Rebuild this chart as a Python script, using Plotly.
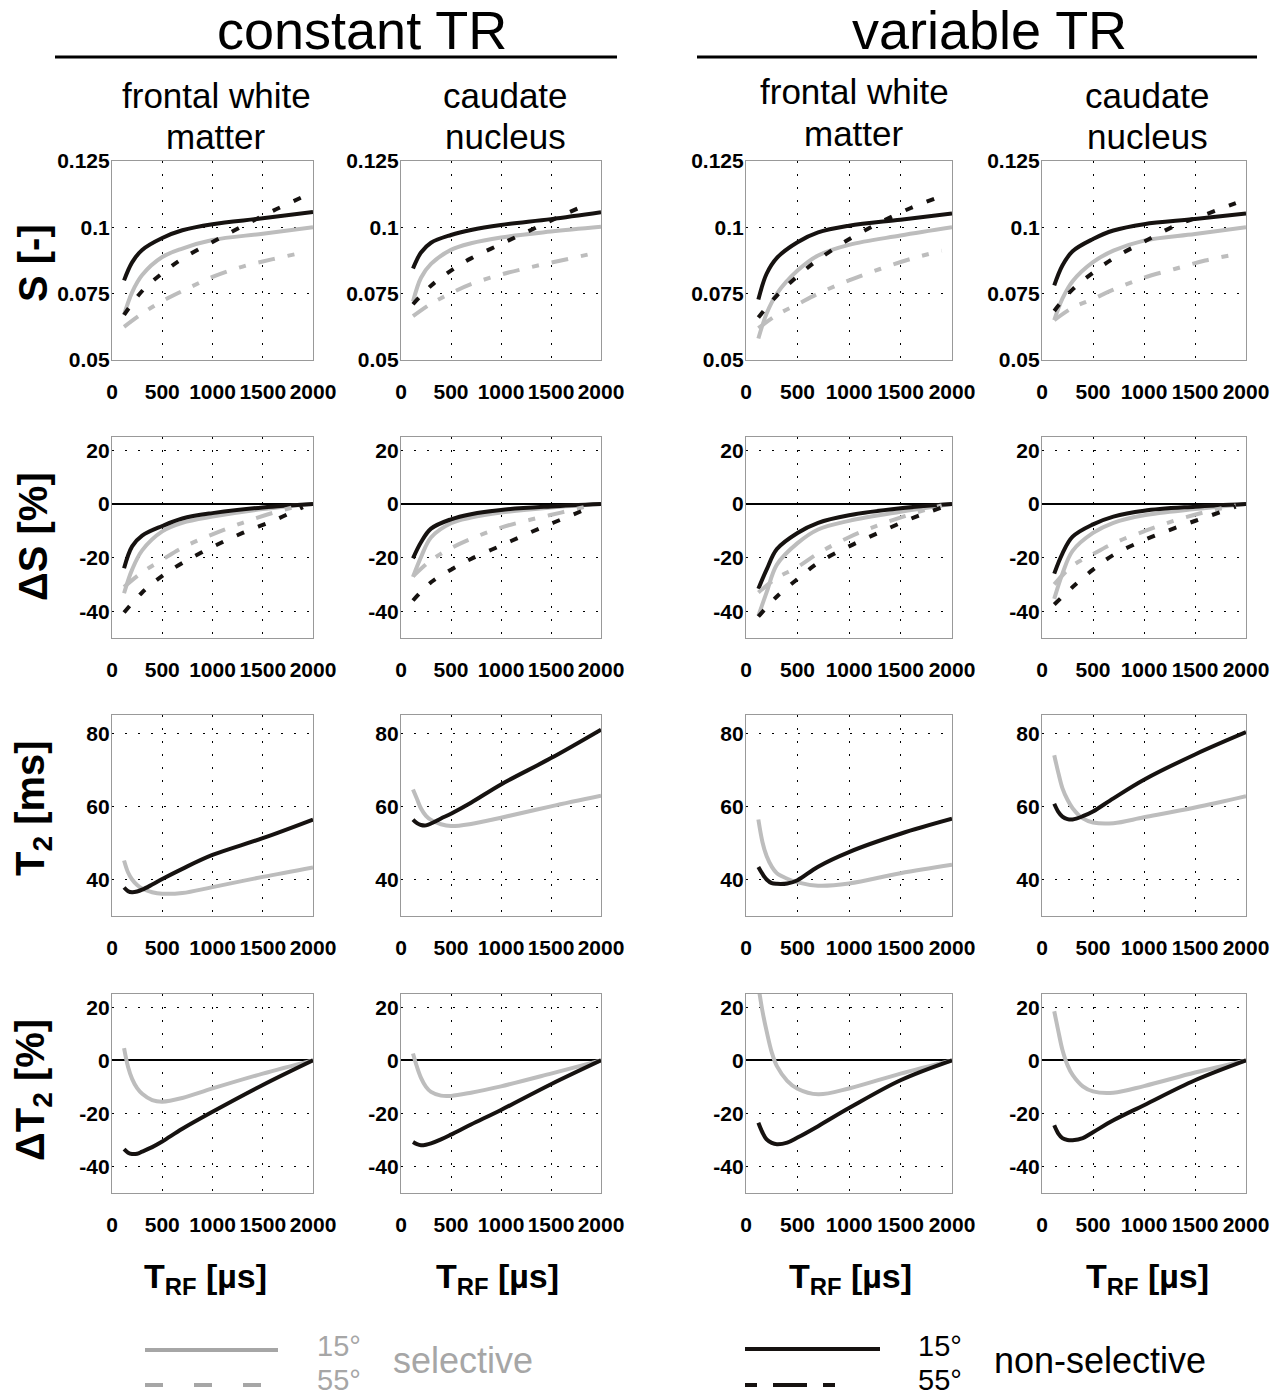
import plotly.graph_objects as go

W, H = 1277, 1397

# ---------------- data ----------------
# TRF sample positions [µs]
X15 = [120, 200, 300, 500, 700, 1000, 1500, 2000]
X55 = [120, 300, 500, 700, 1000, 1300, 1600, 1900]
XT = [120, 160, 200, 250, 300, 400, 500, 700, 1000, 1500, 2000]

# Row 1: S [-]   (sel = selective / gray, non = non-selective / black)
S_cfwm_non15 = [0.080, 0.0868, 0.0915, 0.0960, 0.0989, 0.1012, 0.1034, 0.1058]
S_cfwm_sel15 = [0.067, 0.0755, 0.0820, 0.0888, 0.0920, 0.0952, 0.0976, 0.1000]
S_cfwm_non55 = [0.067, 0.0760, 0.0827, 0.0882, 0.0945, 0.1005, 0.1062, 0.1115]
S_cfwm_sel55 = [0.0625, 0.0675, 0.0722, 0.0760, 0.0813, 0.0852, 0.0880, 0.0905]

S_ccn_non15 = [0.0845, 0.0905, 0.0942, 0.0971, 0.0990, 0.1009, 0.1031, 0.1057]
S_ccn_sel15 = [0.072, 0.0810, 0.0862, 0.0915, 0.0940, 0.0962, 0.0984, 0.1002]
S_ccn_non55 = [0.071, 0.0780, 0.0837, 0.0883, 0.0937, 0.0990, 0.1043, 0.1093]
S_ccn_sel55 = [0.0665, 0.0712, 0.0752, 0.0786, 0.0822, 0.0850, 0.0875, 0.0900]

S_vfwm_non15 = [0.0728, 0.0825, 0.0885, 0.0944, 0.0981, 0.1006, 0.1029, 0.1052]
S_vfwm_sel15 = [0.0581, 0.0675, 0.0750, 0.0837, 0.0894, 0.0934, 0.0969, 0.1000]
S_vfwm_non55 = [0.066, 0.0743, 0.0816, 0.0878, 0.0955, 0.1018, 0.1073, 0.1118]
S_vfwm_sel55 = [0.062, 0.0670, 0.0710, 0.0750, 0.0800, 0.0843, 0.0881, 0.0912]

S_vcn_non15 = [0.0781, 0.0856, 0.0910, 0.0956, 0.0988, 0.1012, 0.1031, 0.1052]
S_vcn_sel15 = [0.065, 0.0731, 0.0797, 0.0869, 0.0912, 0.0950, 0.0975, 0.1000]
S_vcn_non55 = [0.0685, 0.0766, 0.0829, 0.0883, 0.0946, 0.1005, 0.1048, 0.1091]
S_vcn_sel55 = [0.065, 0.0697, 0.0730, 0.0765, 0.0810, 0.0843, 0.0875, 0.0898]

# Row 2: ΔS [%]
dS_cfwm_non15 = [-24, -15.8, -11.8, -8.2, -5.4, -3.4, -1.3, 0]
dS_cfwm_sel15 = [-33.3, -24.5, -17.3, -10.2, -7.0, -4.7, -1.9, 0]
dS_cfwm_non55 = [-40.5, -33, -26.8, -22, -16, -10.8, -6.3, -1.2]
dS_cfwm_sel55 = [-31, -25.5, -20.8, -16.3, -11.3, -7.0, -3.3, -0.3]

dS_ccn_non15 = [-20.3, -14.3, -9.2, -5.7, -3.8, -2.2, -0.9, 0]
dS_ccn_sel15 = [-27.2, -19.8, -12.5, -7.2, -5.1, -3.2, -1.3, 0]
dS_ccn_non55 = [-36, -29.2, -24.5, -20.5, -15.5, -10.5, -5.8, -1.2]
dS_ccn_sel55 = [-27, -21, -16.5, -13, -8.8, -5.8, -3.2, -0.5]

dS_vfwm_non15 = [-31.6, -24.5, -16.8, -10.8, -7.0, -4.2, -1.6, 0]
dS_vfwm_sel15 = [-41.8, -33, -22.6, -14.6, -9.5, -6.3, -2.9, 0]
dS_vfwm_non55 = [-42, -34.5, -28, -22, -15.8, -10.5, -5.5, -1.3]
dS_vfwm_sel55 = [-33, -27.6, -23.5, -18.4, -12.4, -7.7, -3.8, -0.5]

dS_vcn_non15 = [-26, -18.5, -12.2, -7.6, -4.7, -2.5, -1.0, 0]
dS_vcn_sel15 = [-35.4, -26, -17.5, -10.8, -7.0, -4.2, -1.9, 0]
dS_vcn_non55 = [-37.5, -31, -24.5, -19, -13.5, -9, -5, -1]
dS_vcn_sel55 = [-30, -23, -18.7, -14.7, -10.2, -6.2, -3.0, -0.5]

# Row 3: T2 [ms]  (15° only)
T2_cfwm_non15 = [37.8, 36.8, 36.5, 36.7, 37.2, 38.6, 40.1, 42.9, 46.7, 51.3, 56.4]
T2_cfwm_sel15 = [45.2, 41.9, 40.0, 38.5, 37.5, 36.5, 36.1, 36.3, 37.9, 40.7, 43.3]
T2_ccn_non15 = [56.4, 55.4, 54.9, 54.8, 55.3, 56.7, 58.0, 61.0, 66.0, 73.2, 81.0]
T2_ccn_sel15 = [64.6, 62.0, 59.4, 57.4, 56.3, 55.1, 54.6, 55.2, 56.9, 60.0, 62.9]
T2_vfwm_non15 = [43.4, 41.5, 40.0, 39.0, 38.8, 38.9, 39.8, 43.5, 47.5, 52.5, 56.6]
T2_vfwm_sel15 = [56.4, 50.2, 46.4, 43.5, 41.7, 40.2, 39.2, 38.3, 38.9, 41.7, 44.0]
T2_vcn_non15 = [60.7, 58.5, 57.2, 56.5, 56.4, 57.3, 58.6, 62.2, 67.3, 74.2, 80.3]
T2_vcn_sel15 = [74.0, 69.2, 65.0, 61.8, 59.5, 56.7, 55.6, 55.4, 57.0, 59.7, 62.8]

# Row 4: ΔT2 [%]
dT2_cfwm_non15 = [-33.5, -34.8, -35.3, -35.2, -34.4, -32.7, -30.6, -25.8, -19.4, -9.3, 0]
dT2_cfwm_sel15 = [4.6, -2.5, -7.0, -10.5, -12.6, -15.0, -15.6, -14.2, -10.6, -5.0, 0]
dT2_ccn_non15 = [-30.8, -31.6, -32.0, -31.8, -31.3, -29.8, -28.0, -24.2, -18.7, -9.0, 0]
dT2_ccn_sel15 = [2.6, -2.5, -6.6, -10.0, -11.9, -13.3, -13.4, -12.2, -9.8, -5.0, 0]
dT2_vfwm_non15 = [-23.5, -27.2, -29.8, -31.1, -31.6, -31.0, -29.1, -24.8, -18.0, -7.5, 0]
dT2_vfwm_sel15 = [28.0, 18.5, 11.0, 3.0, -2.2, -7.7, -10.7, -12.8, -10.6, -5.0, 0]
dT2_vcn_non15 = [-24.5, -27.6, -29.3, -30.0, -30.1, -29.3, -27.1, -22.6, -16.9, -7.5, 0]
dT2_vcn_sel15 = [18.5, 11.0, 4.0, -1.8, -5.5, -9.8, -11.7, -12.2, -9.7, -4.6, 0]

X_TICKS = [0, 500, 1000, 1500, 2000]
Y_TICKS_S = [0.05, 0.075, 0.1, 0.125]
Y_TICKTEXT_S = ["0.05", "0.075", "0.1", "0.125"]
Y_TICKS_D = [-40, -20, 0, 20]
Y_TICKS_T2 = [40, 60, 80]

HEADERS = ["constant TR", "variable TR"]
COL_TITLES = [["frontal white", "matter"], ["caudate", "nucleus"],
              ["frontal white", "matter"], ["caudate", "nucleus"]]
ROW_TITLES = ["S [-]", "ΔS [%]", "T<sub>2</sub> [ms]", "ΔT<sub>2</sub> [%]"]
X_TITLE = "T<sub>RF</sub> [µs]"
LEG_ANGLES = ["15°", "55°"]
LEG_NAMES = ["selective", "non-selective"]

# ---------------- layout helpers ----------------
COLS_PX = [(112, 313), (401, 601), (746, 952), (1042, 1246)]
ROWS_PX = [(161, 360), (437, 638), (715, 916), (994, 1193)]
YRANGES = [(0.05, 0.125), (-50, 25), (30, 85), (-50, 25)]

GRAY = "#bdbdbd"
BLACK = "#161210"
LW = 4
DASH_BLACK = "8px,15px"
DASH_GRAY = "17px,13px,7px,13px"

fig = go.Figure()

TICKFONT = dict(family="Liberation Sans", size=21, color="black", weight="bold")

panels = ["cfwm", "ccn", "vfwm", "vcn"]
g = globals()

layout_axes = {}
for r in range(4):
    for c in range(4):
        idx = r * 4 + c + 1
        xa = "x" if idx == 1 else f"x{idx}"
        ya = "y" if idx == 1 else f"y{idx}"
        p = panels[c]
        if r in (0, 1):
            pre = "S" if r == 0 else "dS"
            series = [
                (X15, g[f"{pre}_{p}_sel15"], GRAY, "solid"),
                (X15, g[f"{pre}_{p}_non15"], BLACK, "solid"),
                (X55, g[f"{pre}_{p}_sel55"], GRAY, DASH_GRAY),
                (X55, g[f"{pre}_{p}_non55"], BLACK, DASH_BLACK),
            ]
        else:
            pre = "T2" if r == 2 else "dT2"
            series = [
                (XT, g[f"{pre}_{p}_sel15"], GRAY, "solid"),
                (XT, g[f"{pre}_{p}_non15"], BLACK, "solid"),
            ]
        for xs, ys, col, dash in series:
            fig.add_trace(go.Scatter(
                x=xs, y=ys, mode="lines", xaxis=xa, yaxis=ya,
                line=dict(color=col, width=LW, dash=dash, shape="spline", smoothing=1.0),
                showlegend=False, hoverinfo="skip", cliponaxis=True))

        x0, x1 = COLS_PX[c]
        y0, y1 = ROWS_PX[r]
        xkey = "xaxis" if idx == 1 else f"xaxis{idx}"
        ykey = "yaxis" if idx == 1 else f"yaxis{idx}"
        layout_axes[xkey] = dict(
            domain=[x0 / W, x1 / W], anchor=ya, range=[0, 2000], automargin=False,
            tickvals=X_TICKS, ticktext=[str(v) for v in X_TICKS], tickangle=0,
            showgrid=True, gridcolor="black", griddash="2px,11px", gridwidth=1.3,
            showline=True, mirror=True, linecolor="#999999", linewidth=1.2,
            zeroline=False, ticks="", tickfont=TICKFONT, ticklabelstandoff=13,
        )
        if r == 0:
            yt, ytt = Y_TICKS_S, Y_TICKTEXT_S
        elif r == 2:
            yt, ytt = Y_TICKS_T2, [str(v) for v in Y_TICKS_T2]
        else:
            yt, ytt = Y_TICKS_D, [str(v) for v in Y_TICKS_D]
        layout_axes[ykey] = dict(
            domain=[1 - y1 / H, 1 - y0 / H], anchor=xa, range=list(YRANGES[r]), automargin=False,
            tickvals=yt, ticktext=ytt,
            showgrid=True, gridcolor="black", griddash="2px,11px", gridwidth=1.3,
            showline=True, mirror=True, linecolor="#999999", linewidth=1.2,
            zeroline=(r in (1, 3)), zerolinecolor="black", zerolinewidth=1.8,
            ticks="", tickfont=TICKFONT, ticklabelstandoff=-3,
        )

annotations = []
shapes = []

def px(x):
    return x / W

def py(y):
    return 1 - y / H

def ann(text, x, y, font, xanchor="center", textangle=0):
    annotations.append(dict(text=text, x=px(x), y=py(y), xref="paper", yref="paper",
                            showarrow=False, xanchor=xanchor, yanchor="middle",
                            textangle=textangle, font=font, borderpad=0))

# headers
for i, (cx, lx0, lx1) in enumerate([(362, 55, 617), (989, 697, 1257)]):
    ann(HEADERS[i], cx, 30, dict(family="Liberation Sans", size=54, color="black"))
    shapes.append(dict(type="line", xref="paper", yref="paper", x0=px(lx0), x1=px(lx1),
                       y0=py(57), y1=py(57), line=dict(color="black", width=3)))

# column titles (two lines each)
for c, (cx, cy1, cy2) in enumerate([(216, 95, 136), (505, 95, 137), (854, 92, 133), (1147, 95, 137)]):
    f = dict(family="Liberation Sans", size=35, color="black")
    ann(COL_TITLES[c][0], cx, cy1, f)
    ann(COL_TITLES[c][1], cx, cy2, f)

# row titles
for r, cy in enumerate([263, 537, 808, 1090]):
    ann(ROW_TITLES[r], 33, cy, dict(family="Liberation Sans", size=40, color="black", weight="bold"),
        textangle=-90)

# x titles
for c, cx in enumerate([205, 497, 850, 1147]):
    ann(X_TITLE, cx, 1278, dict(family="Liberation Sans", size=34, color="black", weight="bold"))

# legend
LEG_GRAY = "#a6a6a6"
shapes.append(dict(type="line", xref="paper", yref="paper", x0=px(145), x1=px(278), y0=py(1350), y1=py(1350),
                   line=dict(color=LEG_GRAY, width=4)))
shapes.append(dict(type="line", xref="paper", yref="paper", x0=px(145), x1=px(262), y0=py(1385), y1=py(1385),
                   line=dict(color=LEG_GRAY, width=4, dash="18px,31px")))
shapes.append(dict(type="line", xref="paper", yref="paper", x0=px(745), x1=px(880), y0=py(1349), y1=py(1349),
                   line=dict(color=BLACK, width=4)))
shapes.append(dict(type="line", xref="paper", yref="paper", x0=px(745), x1=px(880), y0=py(1385), y1=py(1385),
                   line=dict(color=BLACK, width=4, dash="12px,16px,34px,16px,12px,100px")))

LEGFONT_G = dict(family="Liberation Sans", size=29, color=LEG_GRAY)
LEGFONT_B = dict(family="Liberation Sans", size=29, color="black")
ann(LEG_ANGLES[0], 316, 1346, LEGFONT_G, xanchor="left")
ann(LEG_ANGLES[1], 316, 1380, LEGFONT_G, xanchor="left")
ann(LEG_NAMES[0], 392, 1360, dict(family="Liberation Sans", size=36, color=LEG_GRAY), xanchor="left")
ann(LEG_ANGLES[0], 917, 1346, LEGFONT_B, xanchor="left")
ann(LEG_ANGLES[1], 917, 1380, LEGFONT_B, xanchor="left")
ann(LEG_NAMES[1], 993, 1360, dict(family="Liberation Sans", size=36, color="black"), xanchor="left")

fig.update_layout(
    width=W, height=H, margin=dict(l=0, r=0, t=0, b=0),
    paper_bgcolor="white", plot_bgcolor="white",
    showlegend=False, annotations=annotations, shapes=shapes,
    **layout_axes,
)

fig.write_html("out.html", config={"displayModeBar": False},
               post_script="document.body.style.margin='0px';document.body.style.padding='0px';")
